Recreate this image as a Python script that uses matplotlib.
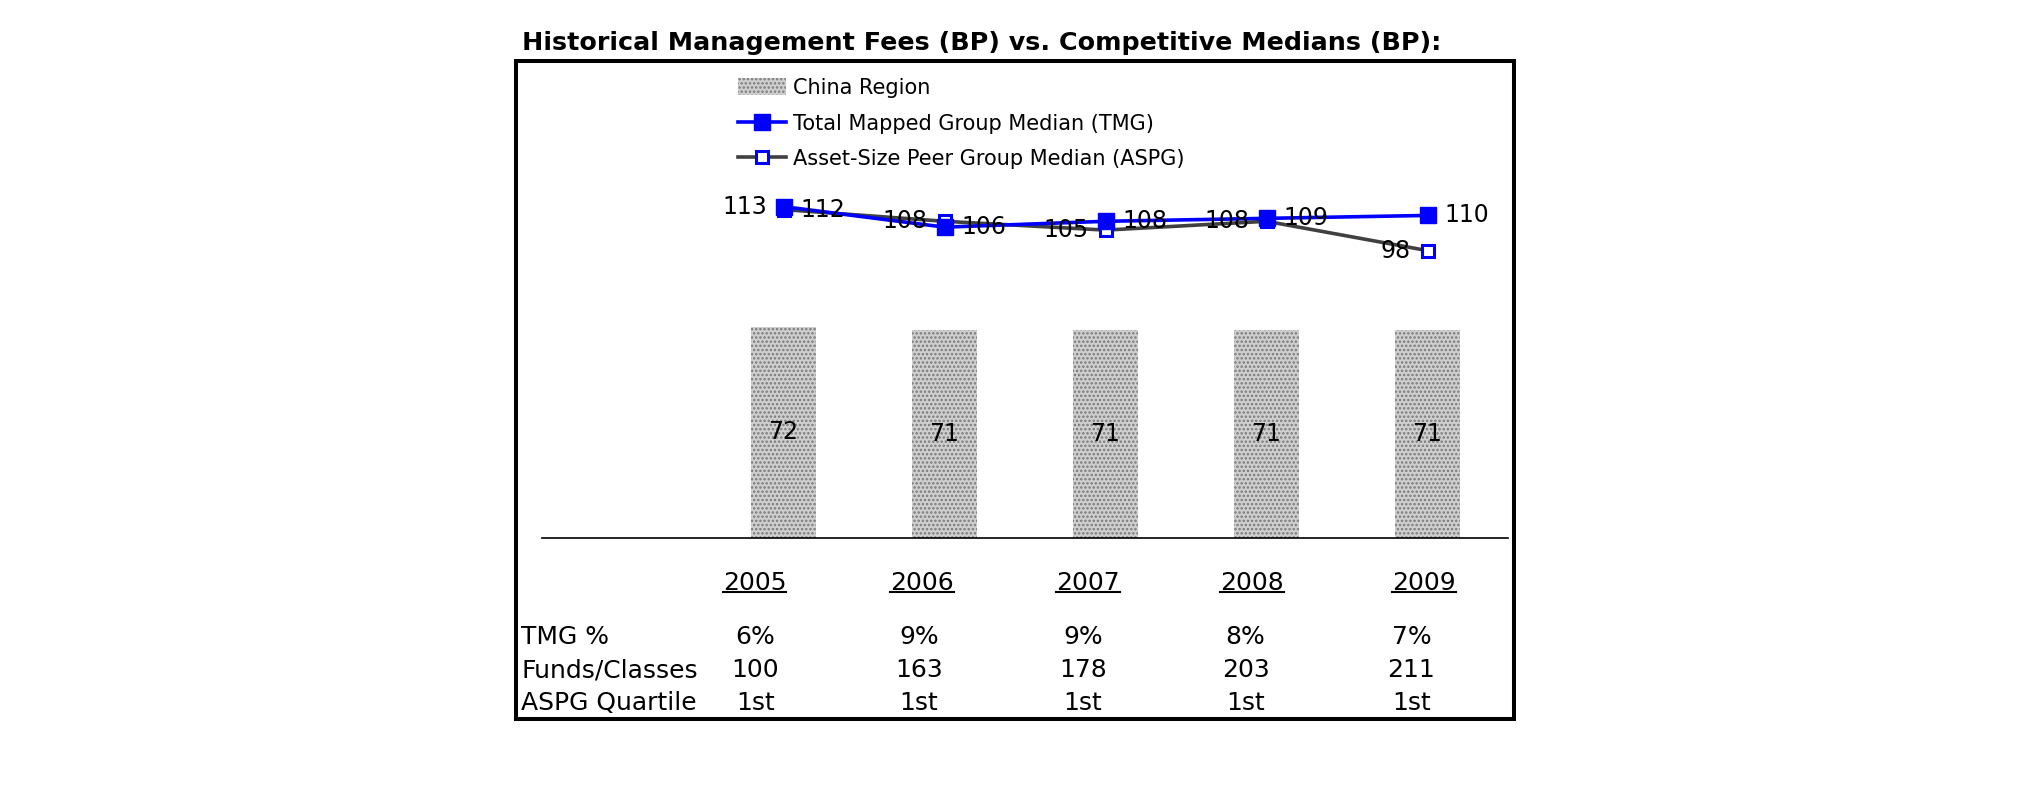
import numpy as np
import matplotlib
matplotlib.use('Agg')
import matplotlib.pyplot as plt
import matplotlib.transforms as mtransforms
from matplotlib.patches import Rectangle, Patch
from matplotlib.lines import Line2D

years = ['2005', '2006', '2007', '2008', '2009']
china_region = [72, 71, 71, 71, 71]
tmg_median = [113, 106, 108, 109, 110]
aspg_median = [112, 108, 105, 108, 98]
tmg_pct = ['6%', '9%', '9%', '8%', '7%']
funds_classes = [100, 163, 178, 203, 211]
aspg_quartile = ['1st', '1st', '1st', '1st', '1st']
row_labels = ['TMG %', 'Funds/Classes', 'ASPG Quartile']

title = 'Historical Management Fees (BP) vs. Competitive Medians (BP):'

# layout (pixels of a 2025x806 figure)
W, H = 2025, 806
tmg_side = ['left', 'right', 'right', 'right', 'right']
aspg_side = ['right', 'left', 'left', 'left', 'left']
year_shift = [-0.18, -0.14, -0.11, -0.09, -0.02]
value_shift = [-0.175, -0.16, -0.14, -0.13, -0.10]
row_y = [637, 670, 703]

plt.rcParams['font.family'] = 'DejaVu Sans'
plt.rcParams['hatch.linewidth'] = 1.2

fig = plt.figure(figsize=(W / 100, H / 100), dpi=100)
ax = fig.add_axes([542 / W, 1 - 538 / H, (1508 - 542) / W, (538 - 60) / H])
x = np.arange(len(years))

bar_face = '#cfcfcf'
bar_hatch = '#7a7a7a'
bars = ax.bar(x, china_region, width=0.4, color=bar_face, hatch='....',
              edgecolor=bar_hatch, linewidth=0)
ax.bar_label(bars, label_type='center', fontsize=17)

ax.plot(x, aspg_median, color='#404040', lw=2.6, marker='s', ms=8.5,
        mfc='white', mec='#0000ff', mew=2.2)
ax.plot(x, tmg_median, color='#0000ff', lw=2.6, marker='s', ms=11)

for vals, sides in [(tmg_median, tmg_side), (aspg_median, aspg_side)]:
    for i, v in enumerate(vals):
        off = 12 if sides[i] == 'right' else -12
        ax.annotate(str(v), (x[i], v), xytext=(off, 0), textcoords='offset points',
                    ha='left' if sides[i] == 'right' else 'right', va='center',
                    fontsize=17, zorder=5)

ax.axhline(0, color='black', lw=1.2, clip_on=False)
ax.set_xlim(-1.5, 4.5)
ax.set_ylim(0, 163)
ax.axis('off')

handles = [Patch(facecolor=bar_face, hatch='....', edgecolor=bar_hatch, linewidth=0),
           Line2D([], [], color='#0000ff', lw=2.6, marker='s', ms=11),
           Line2D([], [], color='#404040', lw=2.6, marker='s', ms=8.5,
                  mfc='white', mec='#0000ff', mew=2.2)]
labels = ['China Region', 'Total Mapped Group Median (TMG)',
          'Asset-Size Peer Group Median (ASPG)']
fig.legend(handles, labels, loc='upper left', bbox_to_anchor=(738 / W, 1 - 78 / H),
           frameon=False, fontsize=15, handlelength=2.3, handleheight=0.85,
           handletextpad=0.35, labelspacing=0.75, borderpad=0, borderaxespad=0)

fig.text(522 / W, 1 - 43 / H, title, fontsize=18.3, fontweight='bold', va='center', ha='left')

trans = mtransforms.blended_transform_factory(ax.transData, fig.transFigure)
year_texts = []
for i, yr in enumerate(years):
    t = ax.text(x[i] + year_shift[i], 1 - 583 / H, yr, transform=trans,
                ha='center', va='center', fontsize=18)
    year_texts.append(t)

rows = [tmg_pct, [str(v) for v in funds_classes], aspg_quartile]
for r, row in enumerate(rows):
    fig.text(521 / W, 1 - row_y[r] / H, row_labels[r], fontsize=18, va='center', ha='left')
    for i, val in enumerate(row):
        ax.text(x[i] + value_shift[i], 1 - row_y[r] / H, val, transform=trans,
                ha='center', va='center', fontsize=18)

fig.add_artist(Rectangle((515.5 / W, 1 - 719 / H), (1514 - 515.5) / W, (719 - 60.5) / H,
                         transform=fig.transFigure, fill=False, lw=2.9, edgecolor='black'))

fig.canvas.draw()
for t in year_texts:
    bb = t.get_window_extent()
    fig.add_artist(Line2D([bb.x0 / W, bb.x1 / W], [(bb.y0 + 3) / H] * 2,
                          transform=fig.transFigure, color='black', lw=1.5))

fig.savefig('out.png', dpi=100)
